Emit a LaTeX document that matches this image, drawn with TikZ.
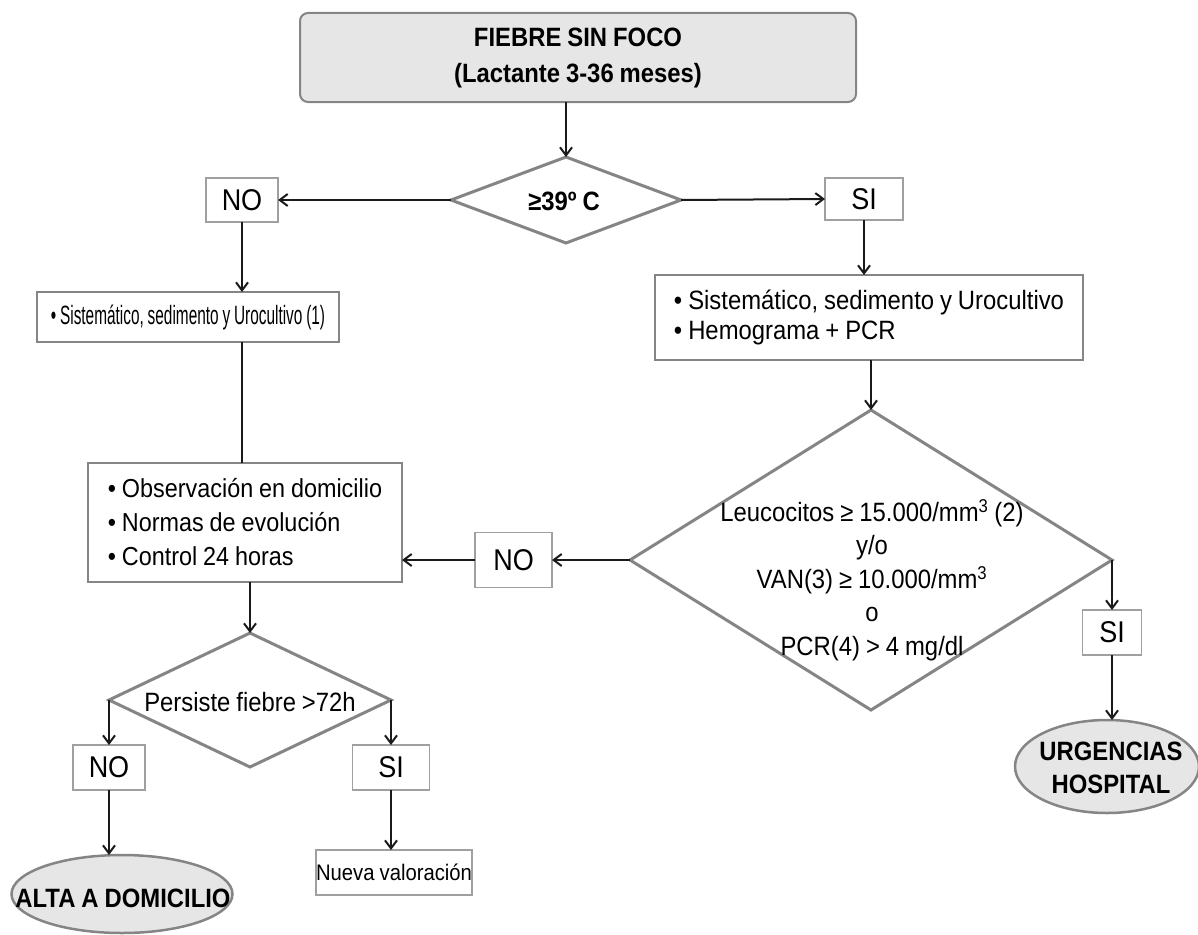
\documentclass[tikz,border=0pt]{standalone}
\usepackage{fontspec}
\setmainfont[FakeStretch=0.9,WordSpace=0.9]{Liberation Sans}
\usepackage{graphicx}
\usetikzlibrary{shapes.geometric,arrows.meta}
\definecolor{bordergray}{HTML}{858585}
\definecolor{lightborder}{HTML}{A0A0A0}
\definecolor{fillgray}{HTML}{E6E6E6}
\definecolor{linecol}{HTML}{1A1A1A}
\begin{document}
\begin{tikzpicture}[x=1pt,y=-1pt,
  every node/.style={font=\fontsize{26.5}{34}\selectfont, inner sep=0pt, outer sep=0pt},
  mainbox/.style={draw=bordergray, line width=2.5pt, fill=white, rectangle},
  tagbox/.style={draw=lightborder, line width=1.5pt, fill=white, rectangle, font=\fontsize{30}{30}\selectfont},
  decision/.style={draw=bordergray, line width=3pt, fill=white, diamond},
  terminal/.style={draw=bordergray, line width=2.5pt, fill=fillgray, ellipse},
  conn/.style={draw=linecol, line width=2pt, -{Straight Barb[length=8pt,width=12pt,line width=2pt]}},
  plain/.style={draw=linecol, line width=2pt},
  boldtext/.style={font=\bfseries\fontsize{26.5}{33}\selectfont, align=center},
]
\useasboundingbox (0,0) rectangle (1198,934);

% top
\node[draw=bordergray, line width=2pt, fill=fillgray, rounded corners=8pt,
      minimum width=556pt, minimum height=89pt, align=center,
      font=\bfseries\fontsize{26.5}{36}\selectfont] (start) at (578,57.5)
      {FIEBRE SIN FOCO\\(Lactante 3-36 meses)};

% first decision
\node[decision, minimum width=230pt, minimum height=86pt] (d1) at (566,200) {};
\node[boldtext] (d1t) at (564,201) {≥39º C};

\node[tagbox, minimum width=72pt, minimum height=44pt] (no1) at (242,200) {NO};
\node[tagbox, minimum width=78pt, minimum height=42pt] (si1) at (864,199) {SI};

% left branch
\node[mainbox, minimum width=302pt, minimum height=50pt] (lbox) at (188,317)
  {\scalebox{0.645}[1]{• Sistemático, sedimento y Urocultivo (1)}};
\node[mainbox, minimum width=314pt, minimum height=119pt,
      align=left, font=\fontsize{26}{34}\selectfont] (obox) at (245,522.5)
  {• Observación en domicilio\\• Normas de evolución\\• Control 24 horas};

% right branch
\node[mainbox, minimum width=428pt, minimum height=85pt,
      align=left, font=\fontsize{26.5}{30}\selectfont] (rbox) at (869,317.5)
  {• Sistemático, sedimento y Urocultivo\\• Hemograma + PCR};

\node[decision, minimum width=482pt, minimum height=300pt] (d2) at (871,560) {};
\node[align=center, font=\fontsize{26.5}{33.5}\selectfont] (d2t) at (872,580)
  {Leucocitos ≥ 15.000/mm\textsuperscript{3} (2)\\y/o\\VAN(3) ≥ 10.000/mm\textsuperscript{3}\\o\\PCR(4) > 4 mg/dl};

\node[tagbox, minimum width=77pt, minimum height=55pt] (no2) at (513.5,560) {NO};
\node[tagbox, minimum width=59pt, minimum height=45pt] (si4) at (1112,632.5) {SI};

\node[terminal, minimum width=184pt, minimum height=93pt] (e2) at (1107,766.5) {};
\node[boldtext] (e2t) at (1111,768) {URGENCIAS\\HOSPITAL};

% lower left decision
\node[decision, minimum width=282pt, minimum height=134pt] (d3) at (250,700) {};
\node (d3t) at (250,702) {Persiste fiebre >72h};

\node[tagbox, minimum width=72pt, minimum height=45pt] (no3) at (109,767.5) {NO};
\node[tagbox, minimum width=77pt, minimum height=45pt] (si3) at (391,767.5) {SI};

\node[terminal, minimum width=221pt, minimum height=78pt] (e1) at (122,894) {};
\node[boldtext] (e1t) at (123,898) {ALTA A DOMICILIO};

\node[draw=lightborder, line width=1.5pt, fill=white, minimum width=152pt, minimum height=45pt,
      font=\fontsize{22.5}{24}\selectfont] (nbox) at (394,872.5) {Nueva valoración};

% connectors
\draw[conn] (d1.north |- start.south) -- (d1.north);
\draw[conn] (d1.west) -- (no1.east);
\draw[conn] (d1.east) -- (si1.west);
\draw[conn] (no1.south) -- (no1.south |- lbox.north);
\draw[plain] (lbox.south -| no1.south) -- (no1.south |- obox.north);
\draw[conn] (si1.south) -- (si1.south |- rbox.north);
\draw[conn] (d2.north |- rbox.south) -- (d2.north);
\draw[conn] (d2.west) -- (no2.east);
\draw[conn] (no2.west) -- (no2.west -| obox.east);
\draw[conn] (d2.east) -- (d2.east |- si4.north);
\draw[conn] (si4.south) -- (si4.south |- e2.north);
\draw[conn] (d3.north |- obox.south) -- (d3.north);
\draw[conn] (d3.west) -- (d3.west |- no3.north);
\draw[conn] (d3.east) -- (d3.east |- si3.north);
\draw[conn] (no3.south) -- (no3.south |- e1.north);
\draw[conn] (si3.south) -- (si3.south |- nbox.north);
\end{tikzpicture}
\end{document}
